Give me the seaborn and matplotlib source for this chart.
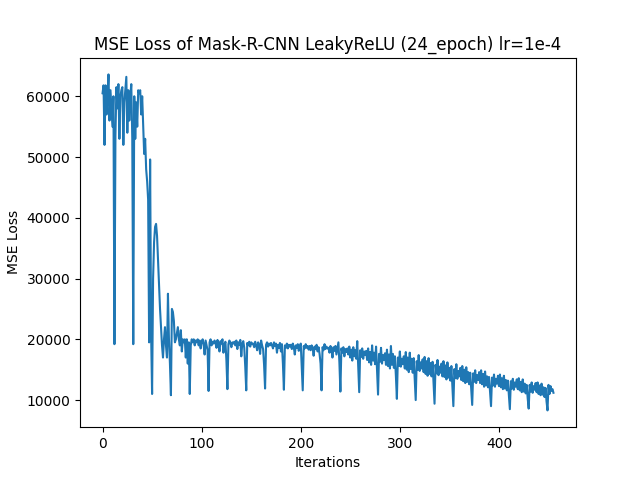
import matplotlib
matplotlib.use("Agg")
import matplotlib.pyplot as plt
import seaborn as sns
import numpy as np

# loss values (thousands), one list per epoch of 19 iterations
epochs_k = [
 [60.5,61.8,52,61.8,57,60,63.6,56,61,58,55,60,19.2,53.5,61.5,58,62,53,60],
 [61,61.5,52,59,61,63.2,54,61,56,60,62,53,19.2,60,53,59,55,61,60.5],
 [61,57,60,55,50.5,53,48,46,43,19.5,49.6,21,11,30,36,38.5,39,37,33],
 [29,25,22,19,17,20,22,19,17,27.5,20,16,10.8,25,24.5,23,19.5,20,21],
 [22,20,19,21.5,18,20,19.5,20,17,20,16,19.5,11,19,20,19.5,20,19,19.8],
 [19.5,20,19,19.8,18.5,19.6,20,19.2,17.5,19.8,19,18.2,11.5,19.5,20,19,19.6,19.3,19.8],
 [19.4,18.6,19.9,19.2,18,19.7,19.3,20,17.8,19.1,19.6,16.5,11.8,19.2,19.8,19.4,18.7,19.5,19.3],
 [19.6,19.0,19.8,18.4,19.5,19.1,19.9,17.2,19.3,19.7,18.6,15.5,11.6,19.4,19.0,19.6,18.8,19.5,19.2],
 [19.3,18.7,19.6,19.0,18.2,19.5,19.1,17.6,19.8,19.0,18.4,15.8,11.9,19.1,19.5,18.8,19.3,19.0,19.4],
 [19.0,18.5,19.5,18.9,19.3,17.8,19.1,18.6,19.4,18.0,19.2,16.0,11.7,19.0,18.6,19.3,18.5,19.1,18.8],
 [19.1,18.4,19.3,18.7,17.5,19.0,18.6,19.2,18.1,18.8,19.3,15.4,11.6,18.9,18.5,19.2,18.6,18.9,18.3],
 [18.9,18.2,19.0,18.6,17.3,18.8,18.4,19.1,18.0,18.7,17.6,16.0,11.6,18.7,18.2,19.2,18.4,18.8,18.5],
 [18.6,17.8,18.9,18.3,17.0,18.7,18.1,18.9,17.5,18.5,19.5,16.2,11.4,18.5,17.8,18.7,17.2,18.4,17.9],
 [18.5,17.5,18.8,17.0,18.3,16.5,18.7,17.2,18.2,16.8,19.7,15.5,11.3,18.2,17.1,18.5,16.8,18.0,17.4],
 [18.1,16.6,18.5,16.2,17.9,15.8,19.0,16.5,17.8,15.9,18.8,14.8,10.9,17.6,16.3,18.6,16.0,17.4,16.6],
 [17.7,15.8,18.3,15.6,17.5,15.2,18.9,15.8,17.6,15.3,17.2,14.0,10.2,17.0,15.6,18.0,15.5,16.8,15.9],
 [17.2,15.2,17.9,15.0,17.0,14.6,17.8,15.1,16.8,14.5,16.9,13.5,10.0,16.4,15.0,17.4,14.8,16.2,15.2],
 [16.7,14.6,17.1,14.3,16.4,14.0,16.9,14.3,16.1,13.9,16.3,12.8,9.4,15.8,14.4,16.6,14.1,15.5,14.5],
 [16.0,13.9,16.4,13.8,15.7,13.4,16.2,13.7,15.3,13.2,15.6,12.2,9.0,15.1,13.6,15.9,13.5,14.8,13.9],
 [15.3,13.3,15.6,13.1,15.0,12.8,15.4,13.0,14.6,12.6,14.5,11.7,9.2,14.4,13.0,14.9,12.8,14.1,13.3],
 [14.6,12.8,14.9,12.6,14.3,12.2,14.7,12.4,13.9,12.1,13.8,11.3,9.0,13.7,12.4,14.2,12.2,13.5,12.7],
 [14.0,12.3,14.2,12.1,13.6,11.8,14.0,11.9,13.3,11.6,13.2,10.8,8.5,13.1,11.9,13.5,11.7,12.9,12.2],
 [13.4,11.8,13.6,11.6,13.0,11.3,13.4,11.4,12.7,11.1,12.5,10.3,8.6,12.5,11.4,12.9,11.2,12.3,11.7],
 [12.8,11.3,12.9,11.0,12.4,10.8,12.7,10.9,12.1,10.5,12.0,9.8,8.3,12.5,11.0,12.3,11.5,11.8,11.2],
]

loss = np.array([v for ep in epochs_k for v in ep]) * 1000
iters = np.arange(len(loss))

fig, ax = plt.subplots(figsize=(6.4, 4.8), dpi=100)
sns.lineplot(x=iters, y=loss, ax=ax, color="#1f77b4", linewidth=1.5)
ax.set_title("MSE Loss of Mask-R-CNN LeakyReLU (24_epoch) lr=1e-4")
ax.set_xlabel("Iterations")
ax.set_ylabel("MSE Loss")
fig.savefig("out.png")
